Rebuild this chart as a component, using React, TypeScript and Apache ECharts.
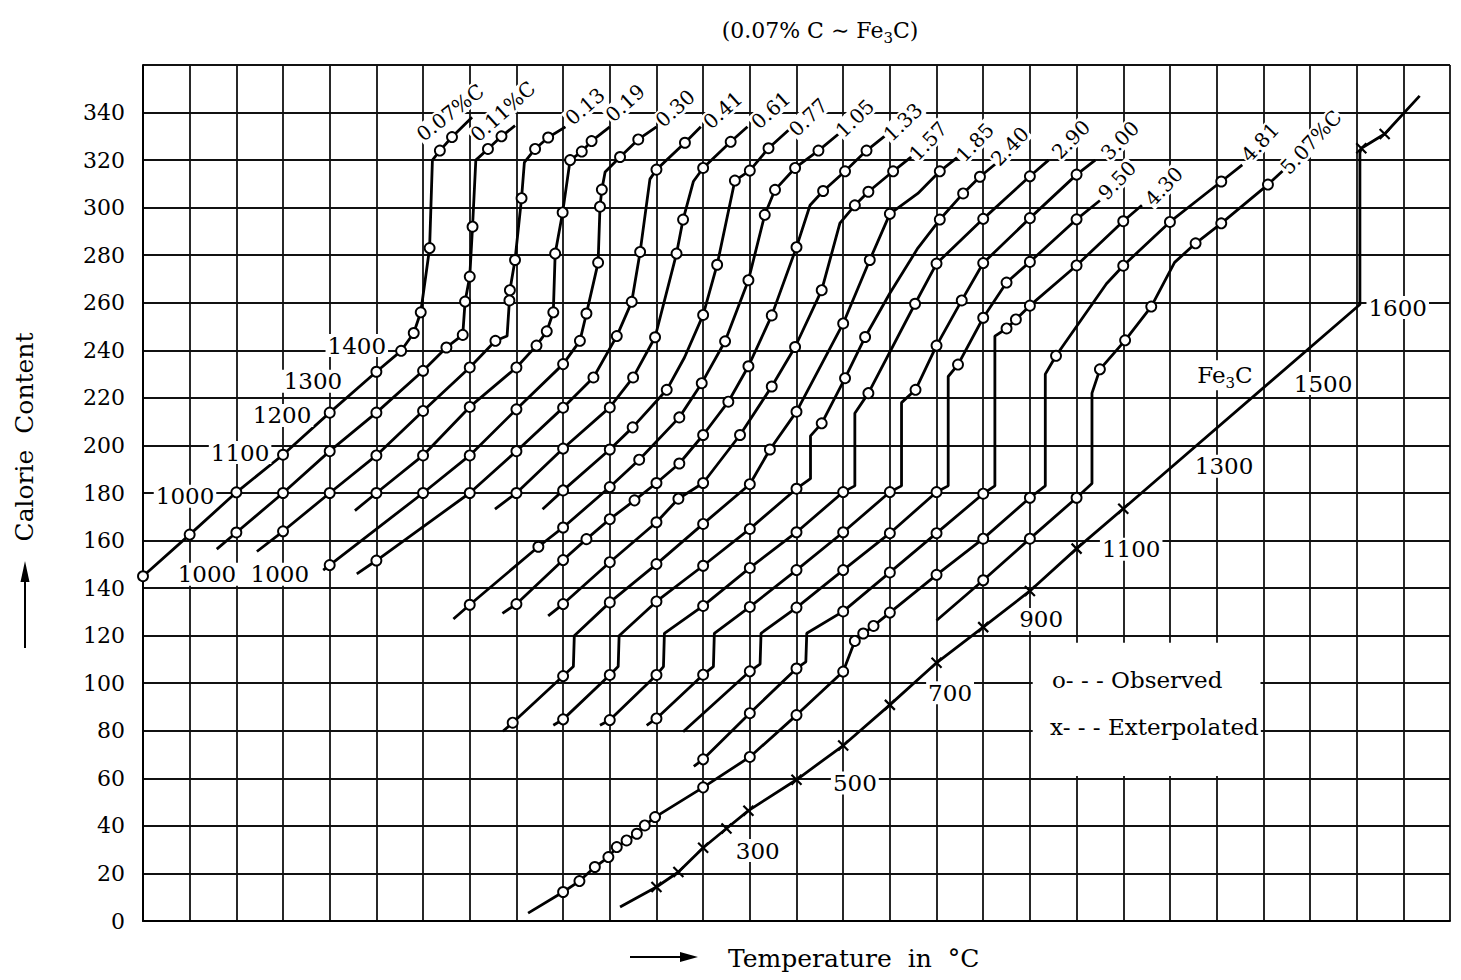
import React, { useEffect, useRef } from "react";
import * as echarts from "echarts";

// [x in grid units (100 °C steps, curves shifted), calorie content, marker: 0 none, 1 observed, 2 extrapolated]
type Pt = [number, number, number];

const yTicks = [0, 20, 40, 60, 80, 100, 120, 140, 160, 180, 200, 220, 240, 260, 280, 300, 320, 340];

const c007: Pt[] = [[0,145,1],[1,162.5,1],[2,180.3,1],[3,196.1,1],[4,213.8,1],[5,231,1],[5.53,239.8,1],[5.8,247.3,1],[5.95,256,1],[6.14,283,1],[6.2,320,0],[6.36,324,1],[6.62,329.7,1],[7.05,338,0]];
const c011: Pt[] = [[1.58,156.4,0],[2,163.4,1],[3,180,1],[4,197.6,1],[5,213.8,1],[6,231.4,1],[6.5,241.2,1],[6.85,246.5,1],[6.9,260.5,1],[7,271,1],[7.06,292,1],[7.13,320,0],[7.39,324.7,1],[7.68,330,1],[7.97,334.5,0]];
const c013: Pt[] = [[2.44,155.4,0],[3,163.9,1],[4,180,1],[5,195.8,1],[6,214.5,1],[7,232.8,1],[7.55,244,1],[7.8,246,0],[7.85,261,1],[7.86,265.3,1],[7.97,278,1],[8.11,304,1],[8.17,319,0],[8.4,324.7,1],[8.68,329.5,1],[9.05,334,0]];
const c019: Pt[] = [[4.54,172.6,0],[5,180,1],[6,195.8,1],[7,216.2,1],[8,232.8,1],[8.43,242,1],[8.65,248,1],[8.79,256,1],[8.83,280.7,1],[8.99,298,1],[9.15,320,1],[9.4,323.6,1],[9.61,328,1],[10,334,0]];
const c030: Pt[] = [[3.86,147.6,0],[4,149.7,1],[6,180,1],[7,195.8,1],[8,215.2,1],[9,234.2,1],[9.36,244,1],[9.5,255.5,1],[9.75,276.9,1],[9.79,300.4,1],[9.83,307.6,1],[9.9,315,0],[10.22,321.3,1],[10.61,328.7,1],[11,334,0]];
const c041: Pt[] = [[4.58,146,0],[5,151.6,1],[7,180,1],[8,197.6,1],[9,215.9,1],[9.65,228.6,1],[10.15,246,1],[10.47,260.4,1],[10.65,281.4,1],[10.86,312,0],[11,316,1],[11.61,327.3,1],[11.95,334,0]];
const c061: Pt[] = [[7.54,173.2,0],[8,180,1],[9,198.7,1],[10,216,1],[10.5,228.6,1],[10.97,245.5,1],[11.43,280.7,1],[11.57,295,1],[11.79,311,0],[12,316.7,1],[12.59,327.7,1],[12.95,334,0]];
const c077: Pt[] = [[8.56,173.2,0],[9,181.1,1],[10,198.3,1],[10.49,207.6,1],[11.22,223.4,1],[11.6,237,0],[12,254.9,1],[12.3,276,1],[12.68,311.4,1],[13,315.6,1],[13.4,325,1],[13.85,333,0]];
const c105: Pt[] = [[6.65,127,0],[7,133,1],[8.47,157.4,1],[9,165.5,1],[10,182.5,1],[10.63,194,1],[11.49,211.8,1],[11.97,226.2,1],[12.47,243.8,1],[12.97,269.5,1],[13.32,297,1],[13.54,307.5,1],[13.97,316.7,1],[14.47,324,1],[14.9,331,0]];
const c133: Pt[] = [[7.7,129.4,0],[8,133.3,1],[9,151.8,1],[9.5,160.6,1],[10,169,1],[10.53,176.9,1],[11,184.2,1],[11.49,192.4,1],[12,204.4,1],[12.54,218.4,1],[12.97,233.3,1],[13.47,254.7,1],[14,283.4,1],[14.29,301,0],[14.57,307,1],[15.04,315.3,1],[15.5,324,1],[15.95,331,0]];
const c157: Pt[] = [[8.68,128.3,0],[9,133.3,1],[10,150.9,1],[11,167.7,1],[11.47,177.6,1],[12,184.2,1],[12.79,204.4,1],[13.47,224.8,1],[13.97,241.4,1],[14.54,265.3,1],[14.93,293.5,0],[15.25,301,1],[15.54,306.7,1],[16.07,315.3,1],[16.5,322,0]];
const c185: Pt[] = [[7.71,79.8,0],[7.92,83.4,1],[9,103,1],[9.22,107,0],[9.24,120,0],[10,134,1],[11,150.1,1],[12,167,1],[13,183.7,1],[13.43,198.3,1],[14,214.2,1],[15,251.3,1],[15.57,278,1],[16,297.4,1],[16.6,306,0],[17.07,315.3,1],[17.5,322,0]];
const c240: Pt[] = [[8.79,82.3,0],[9,84.8,1],[10,103.5,1],[10.18,107,0],[10.2,120,0],[11,134.4,1],[12,149.4,1],[13,164.9,1],[14,181.8,1],[14.3,186,0],[14.3,204,0],[14.54,209.3,1],[15.04,228.3,1],[15.47,245.6,1],[16,264,0],[16.6,283,0],[17.07,295,1],[17.57,306,1],[17.93,313,1],[18.3,319,0]];
const c290: Pt[] = [[9.79,82.3,0],[10,84.5,1],[11,103.5,1],[11.15,107,0],[11.17,121,0],[12,132.5,1],[13,148.5,1],[14,163.5,1],[15,180.4,1],[15.25,183,0],[15.25,213.5,0],[15.54,222,1],[16.54,259.6,1],[17,276.5,1],[18,295.3,1],[19,313.2,1],[19.4,320,0]];
const c300: Pt[] = [[10.79,82.3,0],[11,85.2,1],[12,103.6,1],[12.22,107,0],[12.24,121,0],[13,132.1,1],[14,147.6,1],[15,163.5,1],[16,180.4,1],[16.25,183,0],[16.25,218,0],[16.55,223.4,1],[17,242,1],[17.54,261,1],[18,276.7,1],[19,295.6,1],[20,313.9,1],[20.4,320,0]];
const c350: Pt[] = [[11.57,79.6,0],[13,105,1],[13.22,108,0],[13.24,121,0],[14,131.8,1],[15,147.6,1],[16,163.1,1],[17,180.4,1],[17.25,183,0],[17.25,229,0],[17.46,234,1],[18,253.7,1],[18.5,268.5,1],[19,277.2,1],[20,295.1,1],[20.5,303,0]];
const c430: Pt[] = [[11.8,65,0],[12,68,1],[13,87.4,1],[14,106.2,1],[14.2,109,0],[14.22,121,0],[15,130.2,1],[16,146.6,1],[17,163.1,1],[18,179.7,1],[18.25,183,0],[18.25,246,0],[18.5,249.2,1],[18.7,253,1],[19,258.8,1],[20,275.7,1],[21,294.3,1],[21.4,301,0]];
const c481: Pt[] = [[8.25,3.3,0],[9,12.2,1],[9.35,16.8,1],[9.68,22.7,1],[9.97,26.9,1],[10.15,31.1,1],[10.36,33.9,1],[10.58,36.7,1],[10.75,40.2,1],[10.97,43.7,1],[12,56.2,1],[13,69,1],[14,86.6,1],[15,104.9,1],[15.25,117.8,1],[15.43,120.9,1],[15.65,124.1,1],[16,129.7,1],[17,145.6,1],[18,160.8,1],[19,178,1],[19.33,183,0],[19.33,230,0],[19.56,237.7,1],[20.64,268,0],[21,275.6,1],[22,294,1],[23.1,311,1],[23.55,318,0]];
const c507: Pt[] = [[17,126.4,0],[18,143.3,1],[19,160.8,1],[20,178,1],[20.33,184,0],[20.33,222,0],[20.5,232,1],[21.04,244.2,1],[21.6,258.4,1],[22.1,277,0],[22.55,285,1],[23.1,293.4,1],[24.1,309.7,1],[24.5,317,0]];
const fe3c: Pt[] = [[10.22,5.9,0],[11,14.3,2],[11.47,20.6,2],[12,30.8,2],[12.5,38.9,2],[12.97,46.4,2],[14,59.4,2],[15,73.8,2],[16,90.9,2],[17,108.6,2],[18,123.6,2],[19,138.8,2],[20,156.6,2],[21,173.4,2],[26.07,259.3,0],[26.07,323,0],[26.1,325,2],[26.6,331,2],[27.35,347,0]];

const curves: Pt[][] = [c007, c011, c013, c019, c030, c041, c061, c077, c105, c133, c157, c185, c240, c290, c300, c350, c430, c481, c507, fe3c];

// curve names at the upper ends: [x, y, text, rotation]
const curveLabels: [number, number, string, number][] = [
  [6.58, 340, "0.07%C", 38], [7.71, 340.5, "0.11%C", 42], [9.47, 342.6, "0.13", 41], [10.33, 344, "0.19", 42],
  [11.4, 341.7, "0.30", 42], [12.42, 341, "0.41", 42], [13.45, 341, "0.61", 42], [14.25, 338, "0.77", 44],
  [15.25, 337.6, "1.05", 44], [16.28, 336, "1.33", 44], [16.82, 328, "1.57", 46], [17.82, 327.5, "1.85", 46],
  [18.57, 325.8, "2.40", 46], [19.88, 328.7, "2.90", 46], [20.93, 328.3, "3.00", 46], [20.87, 311.5, "9.50", 46],
  [21.87, 309, "4.30", 46], [23.93, 327.5, "4.81", 47], [25.02, 327.5, "5.07%C", 47],
];

// temperature annotations along the curves: [x, y, text]
const tempLabels: [number, number, string][] = [
  [0.9, 178.6, "1000"], [2.08, 197, "1100"], [2.98, 212.6, "1200"], [3.64, 227, "1300"], [4.58, 242, "1400"],
  [1.37, 145.8, "1000"], [2.93, 145.8, "1000"],
  [13.17, 29.6, "300"], [15.25, 58, "500"], [17.29, 96, "700"], [19.24, 126.8, "900"], [21.17, 156.3, "1100"],
  [23.16, 191.2, "1300"], [25.28, 226, "1500"], [26.88, 258, "1600"],
];
const fe3cLabel: [number, number] = [23.18, 229.5];
const legendRows: [number, number, string][] = [[19.43, 101.2, "o- - - Observed"], [19.39, 81.5, "x- - - Exterpolated"]];
const legendBox: [number, number, number, number] = [19.06, 61, 23.94, 117];

const CROSS = "path://M0,0L10,10M10,0L0,10";
const FONT = "DejaVu Serif";

export default function App() {
  const ref = useRef<HTMLDivElement>(null);
  useEffect(() => {
    document.body.style.margin = "0";
    const chart = echarts.init(ref.current!, null, { renderer: "svg" });
    const curveSeries = curves.map((pts) => ({
      type: "line",
      data: pts.map(([x, y, m]) => ({
        value: [x, y],
        symbol: m === 1 ? "circle" : m === 2 ? CROSS : "none",
        symbolSize: 10,
        itemStyle: m === 2 ? { color: "#000", borderColor: "#000", borderWidth: 2.2 } : { color: "#fff", borderColor: "#000", borderWidth: 1.9 },
      })),
      showAllSymbol: true,
      lineStyle: { color: "#000", width: 2.8 },
      z: 3,
      silent: true,
    }));
    const txt = { fontFamily: FONT, color: "#000", opacity: 1, backgroundColor: "#fff" };
    const labelSeries = {
      type: "scatter",
      symbolSize: 1,
      itemStyle: { color: "rgba(0,0,0,0)", opacity: 1 },
      silent: true,
      z: 4,
      data: [
        ...curveLabels.map(([x, y, t, r]) => ({
          value: [x, y],
          label: { show: true, position: "inside", formatter: t, rotate: r, fontSize: 20, padding: [0, 1], ...txt },
        })),
        ...tempLabels.map(([x, y, t]) => ({
          value: [x, y],
          label: { show: true, position: "inside", formatter: t, fontSize: 23, padding: [0, 2], ...txt },
        })),
        {
          value: fe3cLabel,
          label: {
            show: true, position: "inside", formatter: "{n|Fe}{s|3}{n|C}", backgroundColor: "#fff", padding: [0, 2], opacity: 1,
            rich: { n: { fontFamily: FONT, fontSize: 23, color: "#000", lineHeight: 30, verticalAlign: "middle" }, s: { fontFamily: FONT, fontSize: 15, color: "#000", lineHeight: 30, verticalAlign: "bottom" } },
          },
        },
        ...legendRows.map(([x, y, t]) => ({
          value: [x, y],
          label: { show: true, position: "inside", align: "left", formatter: t, fontSize: 23, padding: [0, 2], ...txt },
        })),
      ],
      markArea: {
        silent: true,
        itemStyle: { color: "#fff", opacity: 1 },
        data: [[{ coord: [legendBox[0], legendBox[1]] }, { coord: [legendBox[2], legendBox[3]] }]],
      },
    };
    chart.setOption({
      animation: false,
      backgroundColor: "#fff",
      grid: { left: 143, right: 11, top: 65, bottom: 59 },
      xAxis: {
        type: "value", min: 0, max: 28, interval: 1,
        axisLine: { show: true, onZero: false, lineStyle: { color: "#000", width: 2 } },
        axisTick: { show: false }, axisLabel: { show: false },
        splitLine: { show: true, lineStyle: { color: "#111", width: 1.8 } },
      },
      yAxis: {
        type: "value", min: 0, max: 360, interval: 20,
        axisLine: { show: true, lineStyle: { color: "#000", width: 2 } },
        axisTick: { show: false },
        axisLabel: {
          margin: 18, fontFamily: FONT, fontSize: 22, color: "#000",
          formatter: (v: number) => (yTicks.includes(v) ? String(v) : ""),
        },
        splitLine: { show: true, lineStyle: { color: "#111", width: 1.8 } },
      },
      graphic: [
        {
          type: "text", x: 820, y: 30,
          style: {
            text: "{n|(0.07% C ∼ Fe}{s|3}{n|C)}", textAlign: "center", textVerticalAlign: "middle",
            rich: { n: { fontFamily: FONT, fontSize: 22, fill: "#000", lineHeight: 30, verticalAlign: "middle" }, s: { fontFamily: FONT, fontSize: 15, fill: "#000", lineHeight: 30, verticalAlign: "bottom" } },
          },
        },
        {
          type: "text", x: 24, y: 437, rotation: Math.PI / 2,
          style: { text: "Calorie  Content", fontFamily: FONT, fontSize: 25, fill: "#000", textAlign: "center", textVerticalAlign: "middle" },
        },
        { type: "line", shape: { x1: 25, y1: 648, x2: 25, y2: 578 }, style: { stroke: "#000", lineWidth: 2 } },
        { type: "polygon", shape: { points: [[25, 561], [20.5, 582], [29.5, 582]] }, style: { fill: "#000" } },
        { type: "line", shape: { x1: 630, y1: 957, x2: 684, y2: 957 }, style: { stroke: "#000", lineWidth: 2 } },
        { type: "polygon", shape: { points: [[698, 957], [680, 952], [680, 962]] }, style: { fill: "#000" } },
        {
          type: "text", x: 728, y: 958,
          style: { text: "Temperature  in  °C", fontFamily: FONT, fontSize: 25, fill: "#000", textAlign: "left", textVerticalAlign: "middle" },
        },
      ],
      series: [...curveSeries, labelSeries],
    });
    return () => chart.dispose();
  }, []);
  return <div ref={ref} style={{ width: 1461, height: 980, background: "#fff" }} />;
}
